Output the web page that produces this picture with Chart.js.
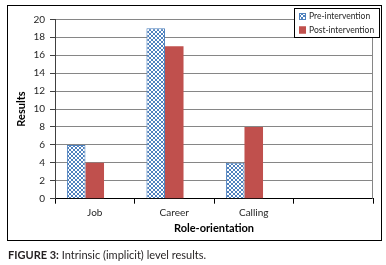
<!DOCTYPE html>
<html>
<head>
<meta charset="utf-8">
<script src="https://cdn.jsdelivr.net/npm/chart.js@4.4.0/dist/chart.umd.min.js"></script>
<style>
  body { margin: 0; background: #fff; }
  #wrap { position: relative; width: 386px; height: 265px; }
  #chart { position: absolute; left: 0; top: 0; }
  #caption {
    position: absolute; left: 8px; top: 248px;
    font: 11px Lato, sans-serif; color: #231f20; white-space: nowrap;
  }
  #caption b { font-weight: 700; }
</style>
</head>
<body>
<div id="wrap">
  <canvas id="chart" width="386" height="265"></canvas>
  <div id="caption"><b>FIGURE 3:</b> Intrinsic (implicit) level results.</div>
</div>
<script>
// Data
const categories = ['Job', 'Career', 'Calling', ''];
const preIntervention = [6, 19, 4, null];
const postIntervention = [4, 17, 8, null];
// Excel left an empty third series, it still takes its slot in each group
const emptySeries = [null, null, null, null];
const yTicks = [0, 2, 4, 6, 8, 10, 12, 14, 16, 18, 20];

const colors = {
    pre: '#4F81BD',
    post: '#C0504D',
    grid: '#868686',
    axis: '#404040',
    text: '#262626'
};

// small blue crosshatch tile for the pre-intervention bars
function makeHatch() {
    const c = document.createElement('canvas');
    c.width = 4; c.height = 4;
    const g = c.getContext('2d');
    g.fillStyle = '#fff';
    g.fillRect(0, 0, 4, 4);
    g.fillStyle = colors.pre;
    for (let i = 0; i < 4; i++) {
        g.fillRect(i, i, 1, 1);
        g.fillRect(3 - i, i, 1, 1);
    }
    return g.createPattern(c, 'repeat');
}
const hatch = makeHatch();

// outer frame, plot right edge and the boxed legend
const framePlugin = {
    id: 'frame',
    beforeDraw(chart) {
        const ctx = chart.ctx;
        ctx.save();
        ctx.strokeStyle = '#000';
        ctx.lineWidth = 1;
        ctx.strokeRect(7.5, 5.5, 374, 235);
        ctx.restore();
    },
    afterDraw(chart) {
        const ctx = chart.ctx;
        const area = chart.chartArea;
        ctx.save();
        ctx.strokeStyle = colors.grid;
        ctx.lineWidth = 1;
        ctx.beginPath();
        ctx.moveTo(Math.round(area.right) - 0.5, area.top);
        ctx.lineTo(Math.round(area.right) - 0.5, area.bottom);
        ctx.stroke();

        // legend box
        ctx.fillStyle = '#fff';
        ctx.fillRect(294, 8, 85, 29);
        ctx.strokeStyle = '#000';
        ctx.strokeRect(294.5, 8.5, 85, 29);

        const items = chart.data.datasets.filter(d => d.label);
        ctx.font = '8.5px Lato, sans-serif';
        ctx.textBaseline = 'middle';
        items.forEach((d, i) => {
            const y = 13 + i * 13.5;
            ctx.fillStyle = d.backgroundColor;
            ctx.fillRect(299, y, 7, 7);
            ctx.strokeStyle = d.borderColor;
            ctx.strokeRect(299.5, y + 0.5, 6, 6);
            ctx.fillStyle = colors.text;
            ctx.fillText(d.label, 309, y + 3.5);
        });
        ctx.restore();
    }
};

new Chart(document.getElementById('chart'), {
    type: 'bar',
    data: {
        labels: categories,
        datasets: [
            {
                label: 'Pre-intervention',
                data: preIntervention,
                backgroundColor: hatch,
                borderColor: colors.pre,
                borderWidth: 1
            },
            {
                label: 'Post-intervention',
                data: postIntervention,
                backgroundColor: colors.post,
                borderColor: colors.post,
                borderWidth: 0
            },
            {
                label: '',
                data: emptySeries,
                backgroundColor: 'rgba(0,0,0,0)'
            }
        ]
    },
    options: {
        responsive: false,
        animation: false,
        categoryPercentage: 0.7,
        barPercentage: 1,
        layout: {
            padding: { left: 8, top: 19.3, right: 13, bottom: 26.3 }
        },
        plugins: {
            legend: { display: false },
            tooltip: { enabled: false }
        },
        scales: {
            x: {
                afterFit: s => { s.height = 40; },
                grid: {
                    offset: true,
                    drawOnChartArea: false,
                    drawTicks: true,
                    tickLength: 5,
                    tickColor: '#000'
                },
                border: { color: '#000' },
                ticks: {
                    padding: 3,
                    color: colors.text,
                    font: { family: 'Lato', size: 10 }
                },
                title: {
                    display: true,
                    text: 'Role-orientation',
                    color: '#000',
                    padding: { top: 0, bottom: 3.5 },
                    font: { family: 'Lato', size: 11, weight: 'bold' }
                }
            },
            y: {
                min: 0,
                max: 20,
                afterFit: s => { s.width = 47; },
                afterBuildTicks: s => { s.ticks = yTicks.map(v => ({ value: v })); },
                grid: {
                    color: colors.grid,
                    tickColor: colors.axis,
                    tickLength: 5
                },
                border: { color: colors.axis },
                ticks: {
                    padding: 5,
                    color: colors.text,
                    font: { family: 'Lato', size: 10 }
                },
                title: {
                    display: true,
                    text: 'Results',
                    color: '#000',
                    padding: { top: 7, bottom: 0 },
                    font: { family: 'Lato', size: 11, weight: 'bold' }
                }
            }
        }
    },
    plugins: [framePlugin]
});
</script>
</body>
</html>
